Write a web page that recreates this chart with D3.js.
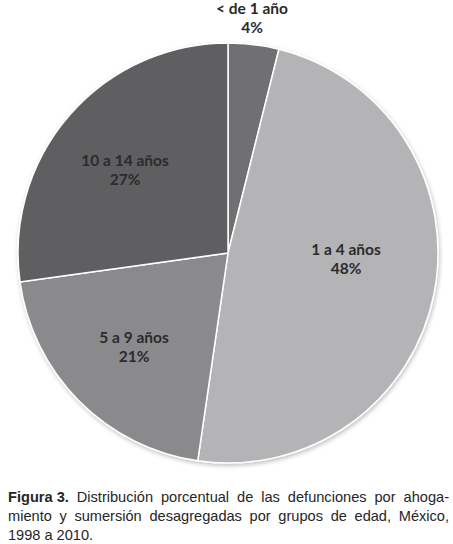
<!DOCTYPE html>
<html><head><meta charset="utf-8">
<script src="https://cdn.jsdelivr.net/npm/d3@7"></script>
<style>html,body{margin:0;padding:0;background:#fff;}svg{display:block;}</style>
</head><body>
<script>
const categories = ["< de 1 año", "1 a 4 años", "5 a 9 años", "10 a 14 años"];
const values = [3.9, 48.4, 20.5, 27.2];
const percentLabels = ["4%", "48%", "21%", "27%"];
const colors = ["#707073", "#b4b4b7", "#8a8a8d", "#5f5f62"];
const captionLines = [
  [{t:"Figura 3.", b:true}, {t:"Distribución"}, {t:"porcentual"}, {t:"de"}, {t:"las"}, {t:"defunciones"}, {t:"por"}, {t:"ahoga-"}],
  [{t:"miento"}, {t:"y"}, {t:"sumersión"}, {t:"desagregadas"}, {t:"por"}, {t:"grupos"}, {t:"de"}, {t:"edad,"}, {t:"México,"}],
  [{t:"1998"}, {t:"a"}, {t:"2010."}]
];

const W = 453, H = 544;
const cx = 228, cy = 253, r = 210;
const svg = d3.select("body").append("svg").attr("width", W).attr("height", H);

const defs = svg.append("defs");
const f = defs.append("filter").attr("id", "sh").attr("x", "-10%").attr("y", "-10%").attr("width", "120%").attr("height", "120%");
f.append("feDropShadow").attr("dx", 1).attr("dy", 2).attr("stdDeviation", 2).attr("flood-color", "#000").attr("flood-opacity", 0.25);

const pie = d3.pie().sort(null).value(d => d);
const arcs = pie(values);
const arc = d3.arc().innerRadius(0).outerRadius(r);

const g = svg.append("g").attr("transform", `translate(${cx},${cy})`);
g.append("g").attr("filter", "url(#sh)")
  .selectAll("path").data(arcs).join("path")
  .attr("d", arc)
  .attr("fill", (d, i) => colors[i])
  .attr("stroke", "#ffffff")
  .attr("stroke-width", 1.5);

const labelPos = [[24, -239], [118, 2], [-94, 90], [-103, -87]];
const lg = g.append("g")
  .attr("font-family", "Lato, 'Open Sans', sans-serif")
  .attr("font-weight", "bold")
  .attr("font-size", 15.5)
  .attr("fill", "#2b2b2b")
  .attr("text-anchor", "middle");
categories.forEach((c, i) => {
  const t = lg.append("text").attr("x", labelPos[i][0]).attr("y", labelPos[i][1]);
  t.append("tspan").attr("x", labelPos[i][0]).text(c);
  t.append("tspan").attr("x", labelPos[i][0]).attr("dy", 18.5).text(percentLabels[i]);
});

const capG = svg.append("g")
  .attr("font-family", "'Liberation Sans', Arial, sans-serif")
  .attr("font-size", 14.6)
  .attr("fill", "#262626");
const left = 8, right = 449;
const baselines = [502, 521, 540];
captionLines.forEach((words, li) => {
  const nodes = words.map(w => capG.append("text")
    .attr("y", baselines[li])
    .attr("font-weight", w.b ? "bold" : "normal")
    .text(w.t));
  const widths = nodes.map(n => n.node().getComputedTextLength());
  const total = d3.sum(widths);
  const gap = li < captionLines.length - 1 ? (right - left - total) / (words.length - 1) : 4;
  let x = left;
  nodes.forEach((n, i) => { n.attr("x", x); x += widths[i] + gap; });
});
</script>
</body></html>
